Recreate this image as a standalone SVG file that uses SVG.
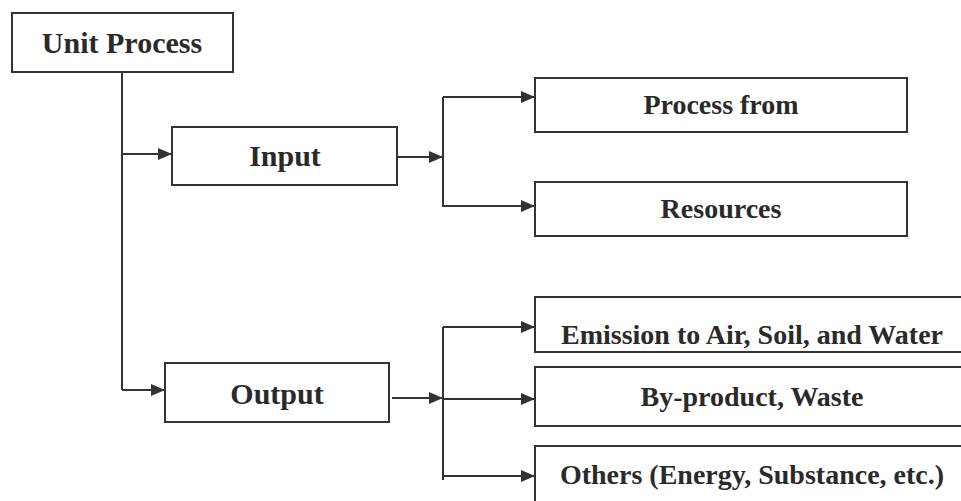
<svg xmlns="http://www.w3.org/2000/svg" width="961" height="501" viewBox="0 0 961 501">
<style>
.box{fill:#fff;stroke:#333;stroke-width:2}
text{font-family:'Liberation Serif','Times New Roman',Tinos,'DejaVu Serif',serif;font-weight:bold;fill:#2a2a2a;text-anchor:middle}
.l{font-size:30px}
.r{font-size:28px}
.c{fill:none;stroke:#333;stroke-width:2}
</style>
<defs>
<marker id="a" markerUnits="userSpaceOnUse" markerWidth="14" markerHeight="12" refX="14" refY="6" orient="auto">
<path d="M0,0 L14,6 L0,12 Z" fill="#333"/>
</marker>
</defs>
<rect width="961" height="501" fill="#fff"/>
<g id="connectors">
<path class="c" d="M122,72 V390"/>
<path class="c" d="M122,154 H172" marker-end="url(#a)"/>
<path class="c" d="M122,390 H165" marker-end="url(#a)"/>
<path class="c" d="M397,157 H443" marker-end="url(#a)"/>
<path class="c" d="M443,97 V207"/>
<path class="c" d="M443,97 H535" marker-end="url(#a)"/>
<path class="c" d="M443,206 H535" marker-end="url(#a)"/>
<path class="c" d="M392,398 H443" marker-end="url(#a)"/>
<path class="c" d="M443,327 V480"/>
<path class="c" d="M443,327 H535" marker-end="url(#a)"/>
<path class="c" d="M443,399 H535" marker-end="url(#a)"/>
<path class="c" d="M443,476 H535" marker-end="url(#a)"/>
</g>
<g id="unit-process"><rect class="box" x="12" y="13" width="221" height="59"/><text class="l" x="122" y="53" font-family="Liberation Serif, serif">Unit Process</text></g>
<g id="input"><rect class="box" x="172" y="127" width="225" height="58"/><text class="l" x="285" y="166">Input</text></g>
<g id="output"><rect class="box" x="165" y="363" width="224" height="59"/><text class="l" x="277" y="404">Output</text></g>
<g id="process-from"><rect class="box" x="535" y="78" width="372" height="54"/><text class="r" x="721" y="114">Process from</text></g>
<g id="resources"><rect class="box" x="535" y="182" width="372" height="54"/><text class="r" x="721" y="218">Resources</text></g>
<g id="emission"><rect class="box" x="535" y="297" width="434" height="55"/><text class="r" x="752" y="344">Emission to Air, Soil, and Water</text></g>
<g id="by-product"><rect class="box" x="535" y="367" width="434" height="59"/><text class="r" x="752" y="406">By-product, Waste</text></g>
<g id="others"><rect class="box" x="535" y="446" width="434" height="70"/><text class="r" x="752" y="484">Others (Energy, Substance, etc.)</text></g>
</svg>
